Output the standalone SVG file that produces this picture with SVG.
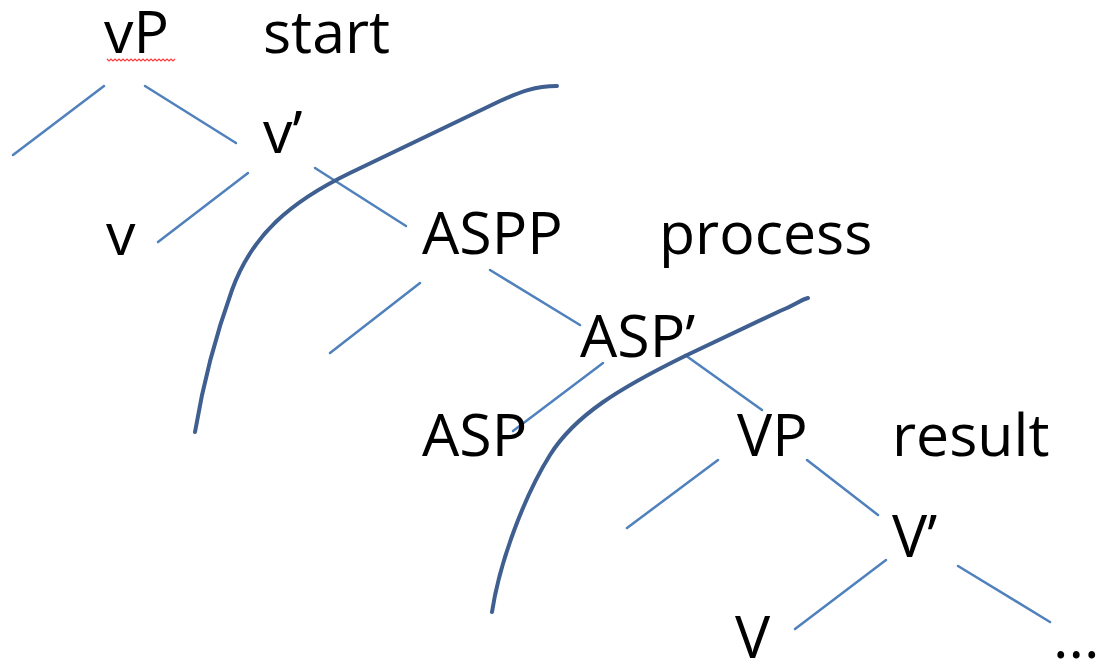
<svg xmlns="http://www.w3.org/2000/svg" width="1096" height="660" viewBox="0 0 1096 660">
<style>
.t{font-family:"Open Sans",Lato,"Liberation Sans",sans-serif;font-size:59px;fill:#000}
.b{stroke:#4f81bd;stroke-width:2.5;fill:none;stroke-linecap:round}
.c{stroke:#3f5f90;stroke-width:4;fill:none;stroke-linecap:round}
.sq{stroke:#ff3b3b;stroke-width:1.2;fill:none}
</style>
<rect width="1096" height="660" fill="#fff"/>
<g id="connectors">
<line class="b" x1="104" y1="86" x2="13" y2="155"/>
<line class="b" x1="145" y1="86" x2="236" y2="143"/>
<line class="b" x1="248" y1="173" x2="158" y2="242"/>
<line class="b" x1="315" y1="168" x2="406" y2="226"/>
<line class="b" x1="420" y1="283" x2="330" y2="353"/>
<line class="b" x1="490" y1="270" x2="580" y2="325"/>
<line class="b" x1="603" y1="363" x2="513" y2="431"/>
<line class="b" x1="685" y1="355" x2="762" y2="410"/>
<line class="b" x1="718" y1="460" x2="627" y2="528"/>
<line class="b" x1="807" y1="460" x2="878" y2="515"/>
<line class="b" x1="886" y1="560" x2="795" y2="629"/>
<line class="b" x1="958" y1="566" x2="1050" y2="622"/>
</g>
<g id="boundaries">
<path class="c" d="M557,86 C535,86 520,92 500,101 L350,173 C290,202 252,235 232,290 C214,340 202,390 195,432"/>
<path class="c" d="M808,298 C800,300 795,305 780,311 L685,356 C620,388 575,415 550,455 C525,495 500,560 492,612"/>
</g>
<g id="n-vP"><text class="t" x="104" y="53">vP</text>
<path class="sq" d="M107,59 l2,2 l2,-2 l2,2 l2,-2 l2,2 l2,-2 l2,2 l2,-2 l2,2 l2,-2 l2,2 l2,-2 l2,2 l2,-2 l2,2 l2,-2 l2,2 l2,-2 l2,2 l2,-2 l2,2 l2,-2 l2,2 l2,-2 l2,2 l2,-2 l2,2 l2,-2 l2,2 l2,-2 l2,2 l2,-2 l2,2 l2,-2"/></g>
<g id="n-start"><text class="t" x="263" y="53">start</text></g>
<g id="n-vbar"><text class="t" x="263" y="153">v’</text></g>
<g id="n-v"><text class="t" x="106" y="255">v</text></g>
<g id="n-ASPP"><text class="t" x="422" y="254">ASPP</text></g>
<g id="n-process"><text class="t" x="659" y="254">process</text></g>
<g id="n-ASPbar"><text class="t" x="580" y="357">ASP’</text></g>
<g id="n-ASP"><text class="t" x="422" y="456">ASP</text></g>
<g id="n-VP"><text class="t" x="737" y="456">VP</text></g>
<g id="n-result"><text class="t" x="892" y="456">result</text></g>
<g id="n-Vbar"><text class="t" x="892" y="557">V’</text></g>
<g id="n-V"><text class="t" x="735" y="658">V</text></g>
<g id="n-dots"><text class="t" x="1053" y="658">...</text></g>
</svg>
